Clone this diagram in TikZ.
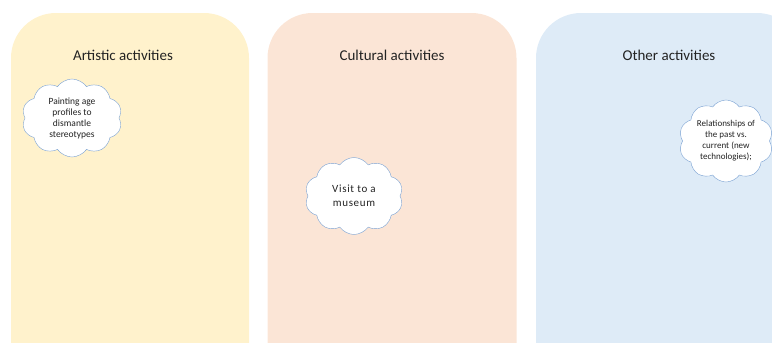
\documentclass[tikz,border=0pt]{standalone}
\usepackage{fontspec}
\setmainfont{Carlito}
\usetikzlibrary{shapes.symbols}
\definecolor{artfill}{RGB}{255,242,204}
\definecolor{culfill}{RGB}{251,229,214}
\definecolor{othfill}{RGB}{222,235,247}
\definecolor{cloudline}{RGB}{120,160,210}
\definecolor{titletext}{RGB}{35,35,35}
\begin{document}
\begin{tikzpicture}[x=1pt,y=-1pt,
				panel/.style={rectangle,rounded corners=45pt,inner sep=0pt,minimum height=380pt},
				title/.style={font=\fontsize{15}{17}\selectfont,text=titletext},
				idea/.style={cloud,cloud puffs=10,cloud puff arc=110,aspect=1.3,draw=cloudline,
					fill=white,inner sep=0pt,align=center,text=titletext,
					font=\fontsize{9.5}{11}\selectfont}]
\useasboundingbox (0,0) rectangle (772,343);
\clip (0,0) rectangle (772,343);
\node[panel,fill=artfill,minimum width=238pt] (art) at (130,203) {};
\node[panel,fill=culfill,minimum width=249pt] (cul) at (392,203) {};
\node[panel,fill=othfill,minimum width=266pt] (oth) at (669,203) {};
\node[title] (artT) at (123,55) {Artistic activities};
\node[title] (culT) at (392,55) {Cultural activities};
\node[title] (othT) at (669,55) {Other activities};
\node[idea,minimum width=100pt,minimum height=78pt] (paint) at (72,118)
	{Painting age\\profiles to\\dismantle\\stereotypes};
\node[idea,minimum width=98pt,minimum height=77pt,font=\fontsize{11}{14}\selectfont] (museum) at (354,196)
	{\addfontfeature{LetterSpace=6}Visit to a\\\addfontfeature{LetterSpace=6}museum};
\node[idea,minimum width=94pt,minimum height=82pt,font=\fontsize{9}{11}\selectfont] (past) at (726,141)
	{Relationships of\\the past vs.\\current (new\\technologies);};
\end{tikzpicture}
\end{document}
